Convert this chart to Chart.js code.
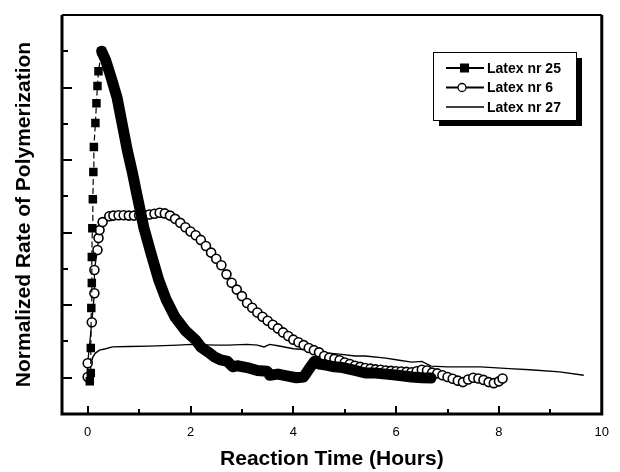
<!DOCTYPE html>
<html lang="en">
<head>
  <meta charset="UTF-8">
  <title>Rate of Polymerization</title>
  <style>
    body { margin: 0; background: #fff; }
    #grafico { display: block; }
  </style>
</head>
<body>
  <canvas id="grafico" width="620" height="472"></canvas>

  <script src="https://cdn.jsdelivr.net/npm/chart.js"></script>

  <script>
    // (hours / normalized rate, 1 unit = one y tick)
    const hours25 = [0.04, 0.06, 0.06, 0.07, 0.08, 0.08, 0.09, 0.10, 0.11, 0.12, 0.15, 0.17, 0.19, 0.21, 0.27,
      0.35, 0.45, 0.57, 0.67, 0.77, 0.87, 0.96, 1.09, 1.23, 1.38, 1.53, 1.70, 1.90, 2.10, 2.20, 2.34, 2.47, 2.59,
      2.72, 2.82, 2.91, 3.10, 3.30, 3.49, 3.54, 3.70, 3.87, 4.06, 4.20, 4.31, 4.41, 4.50, 4.64, 4.80, 4.96, 5.20,
      5.40, 5.59, 5.80, 6.03, 6.30, 6.50, 6.68];
    const rate25 = [0.9, 1.13, 1.82, 2.92, 3.61, 4.33, 5.12, 5.92, 6.67, 7.36, 8.02, 8.57, 9.04, 9.45, 10.0,
      9.75, 9.3, 8.73, 8.0, 7.27, 6.65, 6.03, 5.15, 4.43, 3.7, 3.14, 2.67, 2.3, 2.04, 1.85, 1.71, 1.57, 1.49,
      1.45, 1.3, 1.33, 1.28, 1.2, 1.18, 1.07, 1.1, 1.05, 1.0, 1.02, 1.25, 1.45, 1.38, 1.35, 1.3, 1.28, 1.2,
      1.13, 1.13, 1.1, 1.07, 1.02, 1.0, 0.99];
    const peak25 = 14; // squares and dashed line up to here

    const hours6 = [0.0, 0.0, 0.08, 0.13, 0.13, 0.19, 0.21, 0.23, 0.29, 0.42, 0.5, 0.6, 0.7, 0.8, 0.9, 1.0, 1.1,
      1.2, 1.3, 1.4, 1.5, 1.6, 1.7, 1.8, 1.9, 2.0, 2.1, 2.2, 2.3, 2.4, 2.5, 2.6, 2.7, 2.8, 2.9, 3.0, 3.1, 3.2,
      3.3, 3.4, 3.5, 3.6, 3.7, 3.8, 3.9, 4.0, 4.1, 4.2, 4.3, 4.4, 4.5, 4.6, 4.7, 4.8, 4.9, 5.0, 5.1, 5.2, 5.3,
      5.4, 5.5, 5.6, 5.7, 5.8, 5.9, 6.0, 6.1, 6.2, 6.3, 6.4, 6.5, 6.6, 6.7, 6.8, 6.9, 7.0, 7.1, 7.2, 7.3, 7.4,
      7.5, 7.6, 7.7, 7.8, 7.9, 8.0, 8.07];
    const rate6 = [1.02, 1.4, 2.53, 3.33, 3.97, 4.52, 4.85, 5.07, 5.29, 5.45, 5.47, 5.48, 5.48, 5.47, 5.47, 5.48,
      5.48, 5.5, 5.52, 5.55, 5.53, 5.47, 5.38, 5.27, 5.15, 5.03, 4.93, 4.8, 4.63, 4.45, 4.28, 4.1, 3.85, 3.62,
      3.43, 3.25, 3.06, 2.93, 2.8, 2.68, 2.57, 2.46, 2.36, 2.25, 2.15, 2.05, 1.98, 1.9, 1.82, 1.76, 1.7, 1.6,
      1.55, 1.52, 1.48, 1.42, 1.38, 1.33, 1.3, 1.27, 1.25, 1.23, 1.22, 1.2, 1.19, 1.18, 1.17, 1.16, 1.15, 1.18,
      1.22, 1.2, 1.14, 1.12, 1.07, 1.02, 0.97, 0.92, 0.88, 0.95, 1.0, 0.98, 0.94, 0.88, 0.85, 0.9, 0.98];

    const hours27 = [0.05, 0.1, 0.15, 0.23, 0.35, 0.48, 0.8, 1.2, 1.76, 2.0, 2.5, 2.72, 3.1, 3.3, 3.43, 3.54,
      3.7, 4.0, 4.2, 4.64, 4.9, 5.2, 5.4, 5.8, 6.03, 6.3, 6.5, 6.68, 7.0, 7.3, 7.64, 8.2, 8.6, 9.18, 9.65];
    const rate27 = [1.3, 1.57, 1.68, 1.76, 1.8, 1.85, 1.86, 1.87, 1.9, 1.92, 1.9, 1.9, 1.92, 1.9, 1.85, 1.92,
      1.88, 1.8, 1.78, 1.68, 1.65, 1.6, 1.6, 1.54, 1.49, 1.43, 1.45, 1.32, 1.3, 1.3, 1.3, 1.25, 1.22, 1.16, 1.07];

    const seriesNames = ["Latex nr 25", "Latex nr 6", "Latex nr 27"];
    const xTickValues = [0, 2, 4, 6, 8, 10];

    const fuente = "'Liberation Sans', Arial, Helvetica, sans-serif";
    const toPoints = (xs, ys) => xs.map((x, i) => ({x: x, y: ys[i]}));

    // frame with ticks pointing inward
    const marco = {
      id: "marco",
      afterDatasetsDraw(chart) {
        const {ctx, chartArea: a, scales} = chart;
        ctx.save();
        ctx.strokeStyle = "#000";
        ctx.lineWidth = 2;
        for (let v = 1; v <= 10; v++) {
          const y = Math.round(scales.y.getPixelForValue(v));
          const len = v % 2 ? 10 : 6;
          ctx.beginPath(); ctx.moveTo(a.left, y); ctx.lineTo(a.left + len, y); ctx.stroke();
        }
        for (let v = 0; v <= 10; v++) {
          const x = Math.round(scales.x.getPixelForValue(v));
          const len = v % 2 ? 5 : 8;
          ctx.beginPath(); ctx.moveTo(x, a.bottom); ctx.lineTo(x, a.bottom - len); ctx.stroke();
        }
        ctx.lineWidth = 3;
        ctx.beginPath();
        ctx.moveTo(a.left, a.top); ctx.lineTo(a.left, a.bottom);
        ctx.lineTo(a.right, a.bottom); ctx.lineTo(a.right, a.top);
        ctx.stroke();
        ctx.lineWidth = 2;
        ctx.beginPath(); ctx.moveTo(a.left, a.top); ctx.lineTo(a.right, a.top); ctx.stroke();
        ctx.restore();
      }
    };

    // boxed legend with drop shadow, like the printed figure
    const leyenda = {
      id: "leyenda",
      afterDraw(chart) {
        const ctx = chart.ctx;
        const bx = 433, by = 52, bw = 143, bh = 68;
        ctx.save();
        ctx.fillStyle = "#000";
        ctx.fillRect(bx + 6, by + 6, bw, bh);
        ctx.fillStyle = "#fff";
        ctx.fillRect(bx, by, bw, bh);
        ctx.strokeStyle = "#000";
        ctx.lineWidth = 1;
        ctx.strokeRect(bx + 0.5, by + 0.5, bw, bh);
        const rows = [68, 87.5, 107];
        chart.data.datasets.forEach((ds, i) => {
          const y = rows[i];
          ctx.strokeStyle = "#000";
          ctx.lineWidth = i === 2 ? 1.3 : 2;
          ctx.beginPath(); ctx.moveTo(446, y); ctx.lineTo(484, y); ctx.stroke();
          if (i === 0) {
            ctx.fillStyle = "#000";
            ctx.fillRect(460, y - 4.5, 9, 9);
          } else if (i === 1) {
            ctx.fillStyle = "#fff";
            ctx.lineWidth = 1.3;
            ctx.beginPath(); ctx.arc(462, y, 4, 0, Math.PI * 2); ctx.fill(); ctx.stroke();
          }
          ctx.fillStyle = "#000";
          ctx.font = "bold 14px " + fuente;
          ctx.textBaseline = "middle";
          ctx.fillText(ds.label, 487, y + 1);
        });
        ctx.restore();
      }
    };

    const lienzo = document.getElementById("grafico");
    new Chart(lienzo, {
      type: "line",
      data: {
        datasets: [
          {
            label: seriesNames[0],
            data: toPoints(hours25, rate25),
            borderColor: "#000",
            backgroundColor: "#000",
            pointStyle: "rect",
            pointRadius: (c) => c.dataIndex <= peak25 ? 6 : 0,
            pointBorderWidth: 0,
            borderJoinStyle: "round",
            borderCapStyle: "round",
            segment: {
              borderWidth: (c) => c.p0DataIndex < peak25 ? 1.2 : 11,
              borderDash: (c) => c.p0DataIndex < peak25 ? [5, 4] : []
            },
            tension: 0
          },
          {
            label: seriesNames[1],
            data: toPoints(hours6, rate6),
            borderColor: "#000",
            borderWidth: 1.3,
            backgroundColor: "#fff",
            pointStyle: "circle",
            pointRadius: 4.5,
            pointBorderWidth: 1.6,
            tension: 0
          },
          {
            label: seriesNames[2],
            data: toPoints(hours27, rate27),
            borderColor: "#000",
            borderWidth: 1.4,
            pointRadius: 0,
            tension: 0
          }
        ]
      },
      options: {
        responsive: false,
        animation: false,
        devicePixelRatio: 1,
        layout: { padding: { top: 15, right: 9, left: 0, bottom: 0 } },
        plugins: {
          legend: { display: false },
          tooltip: { enabled: false }
        },
        scales: {
          x: {
            type: "linear",
            min: -0.5,
            max: 10,
            afterBuildTicks: (axis) => { axis.ticks = xTickValues.map(v => ({value: v})); },
            afterFit: (axis) => { axis.height = 58; },
            grid: { display: false, drawTicks: false },
            border: { display: false },
            ticks: { color: "#000", padding: 11, maxRotation: 0, font: { family: fuente, size: 13 } },
            title: {
              display: true,
              text: "Reaction Time (Hours)",
              color: "#000",
              padding: { top: 0, bottom: 0 },
              font: { family: fuente, size: 21, weight: "bold" }
            }
          },
          y: {
            min: 0,
            max: 11,
            afterFit: (axis) => { axis.width = 62; },
            grid: { display: false, drawTicks: false },
            border: { display: false },
            ticks: { display: false },
            title: {
              display: true,
              text: "Normalized Rate of Polymerization",
              color: "#000",
              padding: { top: 12, bottom: 0 },
              font: { family: fuente, size: 21, weight: "bold" }
            }
          }
        }
      },
      plugins: [marco, leyenda]
    });
  </script>
</body>
</html>
